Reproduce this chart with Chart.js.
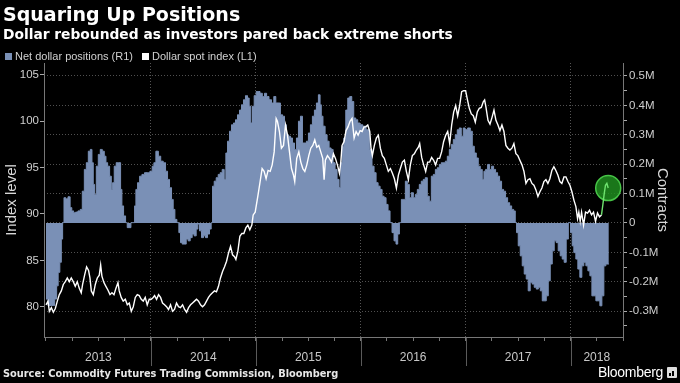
<!DOCTYPE html>
<html>
<head>
<meta charset="utf-8">
<script src="https://cdn.jsdelivr.net/npm/chart.js@4.4.1/dist/chart.umd.min.js"></script>
<style>
  html, body { margin: 0; padding: 0; background: #000; }
  #wrap { position: relative; width: 680px; height: 383px; background: #000; overflow: hidden; }
  #c { position: absolute; left: 0; top: 0; }
  .t { position: absolute; white-space: nowrap; color: #fff; }
  #title { left: 3px; top: 3px; font: bold 19px "DejaVu Sans", sans-serif; }
  #subtitle { left: 3px; top: 26px; font: bold 13.8px "DejaVu Sans", sans-serif; }
  #legend { left: 5px; top: 50px; font: 11px "Liberation Sans", Roboto, sans-serif; color: #d0d0d0; }
  #legend span.sw { display: inline-block; width: 7px; height: 7px; margin-right: 3px; }
  #legend span.item { margin-right: 9px; }
  #source { left: 3px; top: 368px; font: bold 9.8px "DejaVu Sans", sans-serif; color: #e8e8e8; }
  #brand { right: 17px; top: 364px; font: 14px "Liberation Sans", sans-serif; color: #fff; letter-spacing: -0.3px; }
  #logo { position: absolute; left: 667px; top: 367px; width: 10px; height: 11px; background: #ddd; border-radius: 1px; }
  #logo i { position: absolute; bottom: 2px; width: 2px; background: #000; }
</style>
</head>
<body>
<div id="wrap">
  <canvas id="c" width="680" height="383"></canvas>
  <div class="t" id="title">Squaring Up Positions</div>
  <div class="t" id="subtitle">Dollar rebounded as investors pared back extreme shorts</div>
  <div class="t" id="legend"><span class="item"><span class="sw" style="background:#7a90b6"></span>Net dollar positions (R1)</span><span class="item"><span class="sw" style="background:#fff"></span>Dollar spot index (L1)</span></div>
  <div class="t" id="source">Source: Commodity Futures Trading Commission, Bloomberg</div>
  <div class="t" id="brand">Bloomberg</div>
  <div id="logo"><i style="left:2px;height:3px"></i><i style="left:5px;height:5px"></i></div>
</div>
<script>
// ---- Data ----
// Net dollar positions (thousands of contracts), dated in years since 2013
const positionDates = [0.000,0.038,0.070,0.095,0.108,0.124,0.140,0.152,0.165,0.178,0.197,0.222,0.238,0.254,0.273,0.292,0.317,0.336,0.356,0.375,0.394,0.413,0.432,0.444,0.457,0.470,0.489,0.508,0.527,0.546,0.565,0.578,0.597,0.616,0.629,0.641,0.660,0.679,0.705,0.717,0.730,0.749,0.768,0.781,0.800,0.819,0.838,0.851,0.863,0.883,0.902,0.927,0.952,0.978,1.003,1.022,
1.035,1.060,1.082,1.105,1.130,1.149,1.168,1.187,1.206,1.219,1.238,1.257,1.276,1.289,1.308,1.327,1.346,1.365,1.384,1.403,1.422,1.441,1.454,1.473,1.492,1.511,1.530,1.549,1.568,1.581,1.594,1.613,1.632,1.651,1.670,1.689,1.708,1.721,1.740,1.759,1.778,1.797,1.816,1.835,1.854,1.873,1.892,1.911,1.930,1.943,1.962,1.975,1.994,2.013,
2.029,2.051,2.073,2.092,2.114,2.137,2.162,2.181,2.200,2.225,2.244,2.264,2.283,2.302,2.321,2.340,2.359,2.378,2.397,2.416,2.435,2.454,2.473,2.492,2.511,2.530,2.549,2.568,2.587,2.606,2.619,2.629,2.651,2.670,2.689,2.708,2.727,2.746,2.765,2.784,2.803,2.816,2.829,2.848,2.867,2.886,2.905,2.924,2.943,2.962,2.981,
3.003,3.035,3.067,3.098,3.117,3.137,3.156,3.175,3.194,3.213,3.232,3.251,3.270,3.289,3.308,3.327,3.346,3.359,3.378,3.397,3.416,3.435,3.454,3.473,3.492,3.511,3.530,3.549,3.568,3.587,3.606,3.625,3.644,3.663,3.683,3.702,3.721,3.740,3.759,3.778,3.797,3.816,3.835,3.854,3.873,3.892,3.911,3.930,3.949,3.968,3.987,
4.003,4.035,4.054,4.073,4.092,4.111,4.130,4.149,4.168,4.181,4.200,4.219,4.238,4.257,4.276,4.295,4.314,4.333,4.352,4.371,4.390,4.410,4.429,4.448,4.467,4.479,4.492,4.511,4.530,4.549,4.568,4.587,4.606,4.625,4.644,4.664,4.683,4.702,4.721,4.740,4.759,4.778,4.797,4.816,4.835,4.854,4.873,4.892,4.911,4.930,4.949,4.968,
4.990,5.010,5.022,5.041,5.060,5.079,5.098,5.117,5.136,5.156,5.175,5.194,5.213,5.232,5.251,5.270,5.289,5.308,5.327,5.346,5.365];
const positionValues = [-259,-281,-281,-259,-214,-168,-134,-55,1,86,82,89,52,41,35,37,41,46,108,182,205,244,250,205,131,97,193,233,250,244,227,205,193,159,114,137,193,205,205,114,58,24,1,-16,-16,1,1,58,114,137,159,165,171,171,176,193,
205,244,227,210,205,176,148,120,80,46,12,1,-33,-67,-72,-72,-55,-61,-50,-38,-44,-21,-4,-27,-50,-44,-50,-38,-21,1,125,142,154,165,171,182,148,238,278,312,334,340,351,368,384,402,419,433,425,397,340,397,433,447,
447,441,430,441,430,419,408,430,408,408,368,363,334,300,295,289,272,250,289,346,363,272,272,278,306,334,363,384,408,436,402,363,329,300,278,255,250,205,182,148,120,205,261,289,384,425,430,413,357,351,340,
334,329,317,250,193,171,137,125,114,91,86,63,41,1,-33,-61,-72,-38,1,80,80,142,131,86,103,86,97,114,131,142,148,154,91,74,159,165,182,188,199,205,205,210,227,250,267,284,300,317,323,295,323,
317,323,312,261,238,221,193,182,148,176,182,199,182,193,182,171,159,142,114,108,86,69,58,46,41,1,-33,-78,-112,-146,-174,-191,-231,-202,-208,-219,-225,-219,-231,-265,-265,-248,-197,-140,-95,-61,-67,-95,-112,-123,-134,-55,
1,-33,-78,-101,-123,-157,-185,-146,-134,-146,-163,-180,-248,-248,-265,-265,-282,-248,-146,-140,-140];

// Dollar spot index, dated in years since 2013
const dollarDates = [0.000,0.019,0.032,0.051,0.070,0.089,0.108,0.127,0.146,0.165,0.184,0.203,0.222,0.241,0.260,0.279,0.298,0.317,0.336,0.349,0.368,0.387,0.406,0.419,0.432,0.451,0.470,0.489,0.508,0.521,0.533,0.552,0.571,0.590,0.610,0.629,0.648,0.667,0.686,0.698,0.717,0.736,0.756,0.775,0.794,0.813,0.832,0.851,0.870,0.889,0.908,0.927,0.946,0.965,0.984,1.003,1.022,
1.035,1.054,1.073,1.092,1.111,1.130,1.149,1.168,1.187,1.206,1.225,1.244,1.263,1.282,1.302,1.321,1.340,1.359,1.378,1.397,1.416,1.435,1.454,1.473,1.492,1.511,1.530,1.549,1.568,1.587,1.606,1.625,1.644,1.663,1.683,1.702,1.721,1.740,1.759,1.778,1.797,1.810,1.829,1.848,1.867,1.886,1.905,1.924,1.943,1.962,1.975,1.994,2.019,
2.041,2.060,2.079,2.098,2.117,2.137,2.156,2.175,2.194,2.206,2.225,2.244,2.264,2.283,2.302,2.321,2.340,2.359,2.371,2.390,2.410,2.429,2.448,2.467,2.486,2.505,2.524,2.543,2.562,2.581,2.600,2.619,2.638,2.651,2.663,2.683,2.702,2.721,2.740,2.759,2.778,2.797,2.810,2.822,2.841,2.860,2.879,2.898,2.917,2.937,2.956,2.975,2.994,3.013,3.032,
3.048,3.067,3.086,3.098,3.111,3.130,3.149,3.168,3.187,3.206,3.225,3.244,3.263,3.283,3.302,3.321,3.340,3.359,3.378,3.397,3.416,3.435,3.454,3.473,3.492,3.511,3.530,3.549,3.562,3.581,3.600,3.619,3.638,3.657,3.676,3.695,3.714,3.733,3.752,3.771,3.790,3.810,3.829,3.848,3.867,3.886,3.905,3.924,3.943,3.962,3.981,4.000,
4.016,4.035,4.054,4.073,4.092,4.111,4.130,4.149,4.168,4.181,4.194,4.213,4.232,4.251,4.270,4.289,4.308,4.327,4.346,4.365,4.384,4.403,4.422,4.441,4.460,4.479,4.498,4.517,4.537,4.556,4.575,4.594,4.613,4.632,4.651,4.670,4.689,4.708,4.727,4.746,4.765,4.784,4.803,4.822,4.841,4.860,4.879,4.898,4.917,4.937,4.956,4.975,4.994,5.013,5.032,5.051,
5.067,5.079,5.092,5.105,5.124,5.143,5.162,5.181,5.200,5.219,5.238,5.257,5.276,5.295,5.308,5.321,5.333,5.346,5.359];
const dollarValues = [80.2,80.6,79.5,79.9,79.4,79.8,80.6,81.3,81.7,82.4,82.7,83.1,82.7,83.1,82.7,82.2,82.7,82.0,81.5,82.4,83.4,84.3,83.9,83.1,81.7,81.3,82.4,83.1,83.4,84.5,83.3,82.6,82.2,81.8,81.3,81.5,81.3,82.0,82.6,81.7,81.0,80.6,80.8,80.2,80.4,79.5,80.0,81.0,81.3,81.2,80.8,80.6,81.0,80.2,80.8,80.8,81.0,
81.2,80.8,81.3,81.0,80.4,80.2,80.0,79.7,80.2,79.5,79.7,80.4,80.0,79.9,80.2,79.7,79.4,79.9,80.2,80.4,80.6,80.8,80.6,80.2,80.0,80.2,80.6,81.0,81.3,81.5,81.7,81.6,82.2,83.1,83.8,84.3,84.9,85.8,86.5,85.6,85.4,85.1,86.0,87.6,87.9,87.9,88.5,88.8,88.3,88.8,89.9,90.2,91.9,
93.5,94.9,94.6,93.8,94.7,94.6,95.3,96.7,100.3,100.0,98.9,97.1,97.4,99.6,98.5,96.7,94.9,94.2,93.5,96.0,96.7,95.6,94.9,94.6,95.3,96.3,97.1,97.4,98.0,97.2,97.4,96.7,96.0,93.7,95.8,96.3,96.0,95.6,96.5,96.0,95.3,94.4,95.6,97.4,97.8,99.0,99.4,100.0,100.3,98.2,98.9,98.5,99.0,98.9,99.4,
99.4,99.6,98.9,97.1,96.3,97.4,98.2,98.5,97.1,96.3,96.0,95.3,94.6,94.9,94.4,93.8,92.8,94.2,94.9,95.6,95.8,94.6,93.7,95.3,96.3,96.5,96.9,97.2,97.6,96.1,95.3,94.6,95.6,95.6,96.1,95.8,95.3,96.0,96.0,96.7,97.8,98.5,98.9,97.6,99.6,101.0,101.7,100.6,101.7,103.2,103.3,103.3,
102.4,101.4,100.8,100.6,99.9,101.0,101.4,101.5,102.1,102.3,101.5,100.1,99.7,100.4,101.2,100.1,99.6,99.0,99.6,98.9,97.4,97.1,96.9,97.1,97.6,96.5,96.3,95.8,95.3,94.6,93.3,93.7,93.8,93.3,93.1,92.6,91.9,92.4,92.8,93.5,93.7,93.3,93.8,94.7,95.1,94.7,94.2,93.5,93.3,94.0,94.0,93.5,93.1,92.4,91.5,90.8,
89.5,90.2,89.2,90.2,88.8,90.2,90.1,90.4,89.9,90.2,89.2,90.1,89.7,89.9,91.0,92.2,93.1,93.3,92.8];

const baseYear = 2013;
const leftTicks = [80, 85, 90, 95, 100, 105];
const rightTickLabels = [-300, -200, -100, 0, 100, 200, 300, 400, 500];
const yearLabels = ['2013', '2014', '2015', '2016', '2017', '2018'];

// ---- Build chart ----
const posPoints = positionDates.map((d, i) => ({ x: baseYear + d, y: positionValues[i] }));
const dxyPoints = dollarDates.map((d, i) => ({ x: baseYear + d, y: dollarValues[i] }));
const lastDxy = dxyPoints[dxyPoints.length - 1];
const highlightFrom = baseYear + 5.29;

const X_MIN = 2012.981, X_MAX = 2018.5;

const separators = {
  id: 'separators',
  afterDraw(chart) {
    const xs = chart.scales.x, ca = chart.chartArea, ctx = chart.ctx;
    ctx.save();
    ctx.strokeStyle = '#5a5a5a';
    ctx.lineWidth = 1;
    for (let y = baseYear + 1; y <= X_MAX; y++) {
      const px = Math.round(xs.getPixelForValue(y)) + 0.5;
      ctx.beginPath();
      ctx.moveTo(px, ca.bottom + 1);
      ctx.lineTo(px, ca.bottom + 29);
      ctx.stroke();
    }
    ctx.restore();
  }
};

new Chart(document.getElementById('c'), {
  data: {
    datasets: [
      {
        type: 'line', label: 'Net dollar positions (R1)', data: posPoints, yAxisID: 'yR',
        stepped: 'middle', fill: 'origin', backgroundColor: '#7a90b6', borderColor: '#7a90b6',
        borderWidth: 1, pointRadius: 0, order: 3
      },
      {
        type: 'scatter', label: 'highlight', data: [lastDxy], yAxisID: 'yL',
        pointRadius: 12.5, backgroundColor: 'rgba(30,140,30,0.85)', borderColor: '#47c447', borderWidth: 1.5, order: 2
      },
      {
        type: 'line', label: 'Dollar spot index (L1)', data: dxyPoints, yAxisID: 'yL',
        borderColor: '#ffffff', borderWidth: 1.4, pointRadius: 0, tension: 0, fill: false, order: 1,
        segment: { borderColor: ctx => ctx.p0.parsed.x >= highlightFrom ? '#6fe36f' : '#ffffff' }
      }
    ]
  },
  options: {
    responsive: false, animation: false, devicePixelRatio: 1,
    layout: { padding: { top: 63, left: 0, right: 0, bottom: 0 } },
    plugins: { legend: { display: false }, tooltip: { enabled: false } },
    scales: {
      x: {
        type: 'linear', position: 'bottom', min: X_MIN, max: X_MAX,
        afterBuildTicks(scale) {
          const t = [];
          for (let v = baseYear; v <= X_MAX + 1e-9; v += 0.25) t.push({ value: v });
          scale.ticks = t;
        },
        afterFit(scale) { scale.height = 46; },
        grid: {
          color: c => (Math.abs(c.tick.value - Math.round(c.tick.value)) < 1e-6 && c.tick.value > baseYear + 0.5) ? '#555' : 'rgba(0,0,0,0)',
          tickColor: '#777', tickLength: 4, lineWidth: 1
        },
        border: { display: true, color: '#777', dash: [1, 2] },
        ticks: {
          autoSkip: false, maxRotation: 0, color: '#c8c8c8', padding: 9,
          font: { family: 'Liberation Sans', size: 12 },
          callback: v => {
            const yi = Math.floor(v + 1e-9) - baseYear;
            const frac = v - Math.floor(v + 1e-9);
            if (yi < 5 && Math.abs(frac - 0.5) < 1e-6) return yearLabels[yi];
            if (yi === 5 && Math.abs(frac - 0.25) < 1e-6) return yearLabels[5];
            return '';
          }
        }
      },
      yL: {
        type: 'linear', position: 'left', min: 76.73, max: 106.29,
        afterBuildTicks(scale) { scale.ticks = leftTicks.map(v => ({ value: v })); },
        afterFit(scale) { scale.width = 44; },
        grid: { drawOnChartArea: false, tickColor: '#aaa', tickLength: 4 },
        border: { display: true, color: '#777' },
        ticks: { autoSkip: false, color: '#cfcfcf', padding: 1, font: { family: 'Liberation Sans', size: 11.5 } },
        title: { display: true, text: 'Index level', color: '#d8d8d8', padding: { top: 3, bottom: 0 }, font: { family: 'Liberation Sans', size: 15 } }
      },
      yR: {
        type: 'linear', position: 'right', min: -388, max: 544,
        afterBuildTicks(scale) {
          const t = [];
          for (let v = -350; v <= 500; v += 50) t.push({ value: v });
          scale.ticks = t;
        },
        afterFit(scale) { scale.width = 57; },
        grid: {
          color: c => (c.tick && c.tick.value % 100 === 0) ? '#505050' : 'rgba(0,0,0,0)',
          tickColor: '#aaa', tickLength: 4, lineWidth: 1
        },
        border: { display: true, color: '#777', dash: [1, 2] },
        ticks: {
          autoSkip: false, color: '#cfcfcf', padding: 2, font: { family: 'Liberation Sans', size: 11.5 },
          callback: v => rightTickLabels.includes(v) ? (v === 0 ? '0' : (v / 1000) + 'M') : ''
        },
        title: { display: true, text: 'Contracts', color: '#d8d8d8', padding: { top: 9, bottom: 0 }, font: { family: 'Liberation Sans', size: 15 } }
      }
    }
  },
  plugins: [separators]
});
</script>
</body>
</html>
